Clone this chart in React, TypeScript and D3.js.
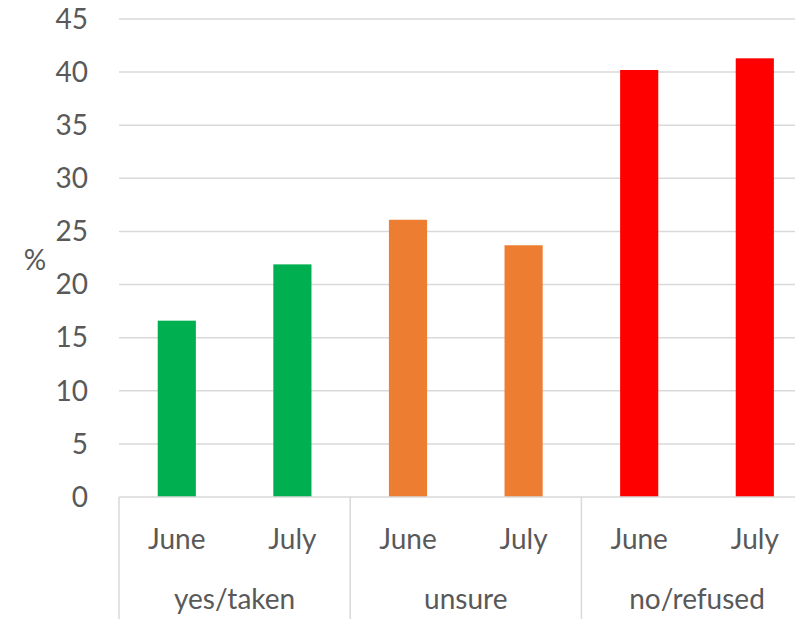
import React from "react";
import * as d3 from "d3";

const groups = ["yes/taken", "unsure", "no/refused"];
const months = ["June", "July"];
const groupColors = ["#00b050", "#ed7d31", "#ff0000"];
const values = [
  [16.6, 21.9],
  [26.1, 23.7],
  [40.2, 41.3],
];
const yTicks = [0, 5, 10, 15, 20, 25, 30, 35, 40, 45];

const W = 795;
const H = 619;
const left = 119;
const bandW = 115.6;
const right = left + bandW * 6;
const top = 19;
const bottom = 497;
const font = "Lato, 'Open Sans', sans-serif";
const fontSize = 28;
const textColor = "#595959";
const gridColor = "#d9d9d9";

export default function App() {
  const rows = groups.flatMap((g, gi) =>
    months.map((m, mi) => ({ key: `${g}-${m}`, group: g, gi, month: m, value: values[gi][mi] }))
  );
  const x = d3.scaleBand<string>().domain(rows.map((r) => r.key)).range([left, right]).paddingInner(0.67).paddingOuter(0.335);
  const xOuter = d3.scaleBand<string>().domain(rows.map((r) => r.key)).range([left, right]);
  const y = d3.scaleLinear().domain([0, 45]).range([bottom, top]);
  const groupX = d3.scaleBand<string>().domain(groups).range([left, right]);

  return (
    <svg width={W} height={H} style={{ position: "absolute", left: 0, top: 0, background: "#fff" }}>
      {yTicks.map((t) => (
        <g key={t}>
          {t > 0 && <line x1={left} x2={right} y1={y(t)} y2={y(t)} stroke={gridColor} strokeWidth={1.5} />}
          <text x={88} y={y(t)} dy="0.35em" textAnchor="end" fontFamily={font} fontSize={fontSize} fill={textColor}>
            {t}
          </text>
        </g>
      ))}
      <text x={35} y={260} dy="0.35em" textAnchor="middle" fontFamily={font} fontSize={fontSize} fill={textColor}>
        %
      </text>
      {rows.map((r) => (
        <rect
          key={r.key}
          x={x(r.key)}
          width={x.bandwidth()}
          y={y(r.value)}
          height={y(0) - y(r.value)}
          fill={groupColors[r.gi]}
        />
      ))}
      <line x1={left} x2={right} y1={bottom} y2={bottom} stroke={gridColor} strokeWidth={1.5} />
      {[0, 2, 4].map((i) => {
        const xx = left + i * bandW;
        return <line key={i} x1={xx} x2={xx} y1={bottom} y2={H} stroke={gridColor} strokeWidth={1.5} />;
      })}
      {rows.map((r) => (
        <text
          key={r.key + "-l"}
          x={(xOuter(r.key) as number) + xOuter.bandwidth() / 2}
          y={539}
          dy="0.35em"
          textAnchor="middle"
          fontFamily={font}
          fontSize={fontSize}
          fill={textColor}
        >
          {r.month}
        </text>
      ))}
      {groups.map((g) => (
        <text
          key={g}
          x={(groupX(g) as number) + groupX.bandwidth() / 2}
          y={599}
          dy="0.35em"
          textAnchor="middle"
          fontFamily={font}
          fontSize={fontSize}
          fill={textColor}
        >
          {g}
        </text>
      ))}
    </svg>
  );
}
